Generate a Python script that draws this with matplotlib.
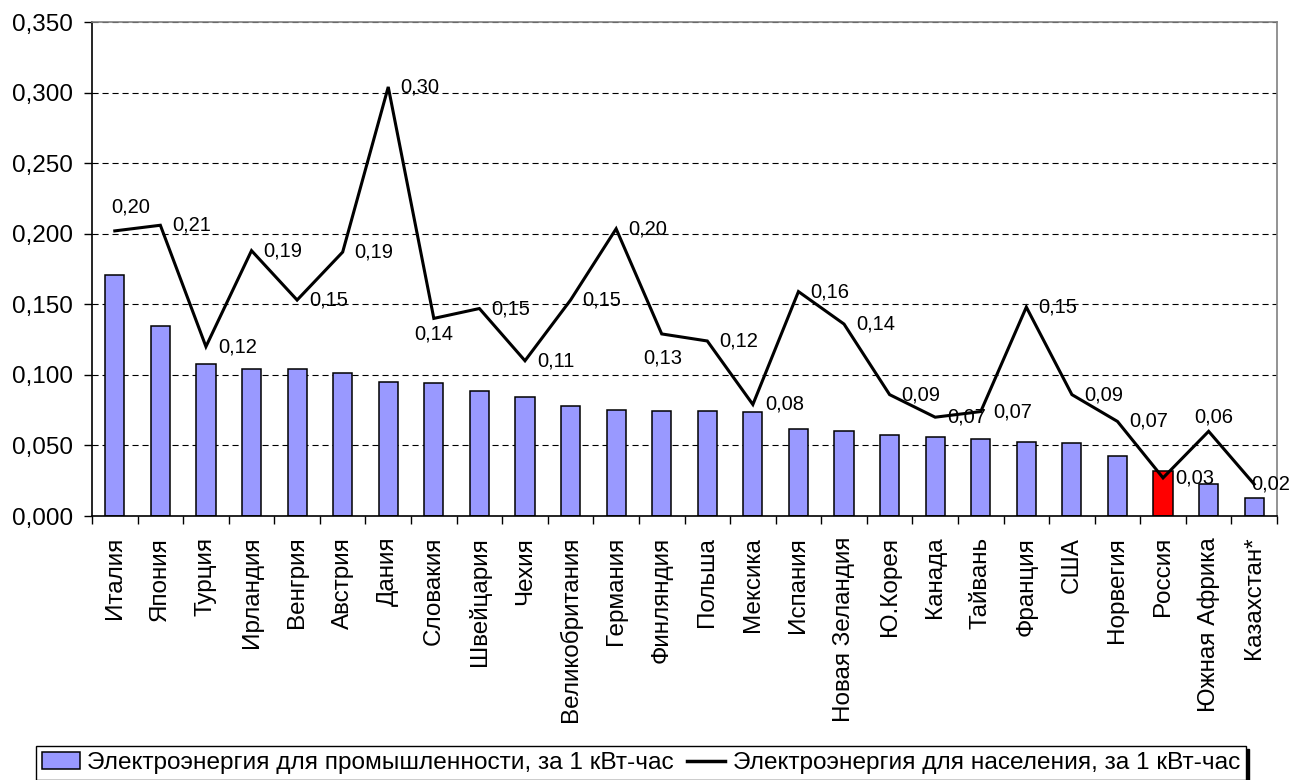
import numpy as np
import matplotlib
matplotlib.use("Agg")
import matplotlib.pyplot as plt
import matplotlib.ticker as mticker
from matplotlib.patches import Patch
from matplotlib.lines import Line2D

plt.rcParams["font.family"] = ["Liberation Sans", "DejaVu Sans"]

# Данные
countries = ["Италия", "Япония", "Турция", "Ирландия", "Венгрия", "Австрия", "Дания",
             "Словакия", "Швейцария", "Чехия", "Великобритания", "Германия", "Финляндия",
             "Польша", "Мексика", "Испания", "Новая Зеландия", "Ю.Корея", "Канада",
             "Тайвань", "Франция", "США", "Норвегия", "Россия", "Южная Африка", "Казахстан*"]

industry = [0.1705, 0.1348, 0.1079, 0.1042, 0.1040, 0.1010, 0.0947, 0.0942, 0.0883,
            0.0844, 0.0778, 0.0753, 0.0743, 0.0743, 0.0736, 0.0619, 0.0599, 0.0577,
            0.0558, 0.0545, 0.0523, 0.0519, 0.0423, 0.0320, 0.0230, 0.0130]

household = [0.202, 0.206, 0.120, 0.188, 0.153, 0.187, 0.304, 0.140, 0.147, 0.110,
             0.153, 0.2035, 0.129, 0.124, 0.079, 0.159, 0.136, 0.086, 0.070, 0.074,
             0.148, 0.086, 0.067, 0.027, 0.060, 0.0225]

label_industry = "Электроэнергия для промышленности, за 1 кВт-час"
label_household = "Электроэнергия для населения, за 1 кВт-час"

BLUE = "#9999FF"
RED = "#FF0000"

fig = plt.figure(figsize=(12.91, 7.80), dpi=100)
W, H = 1291, 780
ax = fig.add_axes([92 / W, 1 - 516 / H, (1277 - 92) / W, (516 - 22) / H])

x = np.arange(len(countries))
colors = [RED if c == "Россия" else BLUE for c in countries]
ax.bar(x, industry, width=0.42, color=colors, edgecolor="black", linewidth=1.1, zorder=2)
ax.plot(x, household, color="black", linewidth=2.2, zorder=3, solid_joinstyle="miter")

ax.set_xlim(-0.5, len(countries) - 0.5)
ax.set_ylim(0, 0.35)
ax.set_yticks(np.arange(0, 0.351, 0.05))
ax.yaxis.set_major_formatter(mticker.FuncFormatter(lambda v, _: f"{v:.3f}".replace(".", ",")))
ax.tick_params(axis="y", labelsize=17.5, length=5.5, width=1, pad=8, direction="out")

ax.grid(axis="y", color="black", linewidth=0.8, linestyle=(0, (5.5, 3.5)))
ax.set_axisbelow(True)

ax.set_xticks(x)
ax.set_xticklabels(countries, rotation=90, fontsize=17.5, va="top", ha="center")
ax.tick_params(axis="x", which="major", length=0, pad=15)
ax.set_xticks(np.arange(-0.5, len(countries), 1), minor=True)
ax.tick_params(axis="x", which="minor", length=5.5, width=1, direction="out")

ax.spines["left"].set_color("black")
ax.spines["bottom"].set_color("black")
ax.spines["top"].set_color("#808080")
ax.spines["right"].set_color("#808080")
for s in ax.spines.values():
    s.set_linewidth(1.2)

# подписи значений (сдвиги в пикселях)
px = 72 / 100
special = {
    "Италия": (16, 24, "center"),
    "Словакия": (0, -16, "center"),
    "Финляндия": (1, -24, "center"),
    "Южная Африка": (5, 14, "center"),
    "Казахстан*": (-3, 0, "left"),
}
for i, (c, v) in enumerate(zip(countries, household)):
    dx, dy, ha = special.get(c, (12, 0, "left"))
    ax.annotate(f"{v:.2f}".replace(".", ","), (i, v), xytext=(dx * px, dy * px),
                textcoords="offset points", ha=ha, va="center", fontsize=14.5,
                zorder=4, annotation_clip=False)

handles = [Patch(facecolor=BLUE, edgecolor="black", linewidth=1.1),
           Line2D([0], [0], color="black", linewidth=2.5)]
leg = fig.legend(handles, [label_industry, label_household], loc="upper left",
                 bbox_to_anchor=(36 / W, 1 - 746 / H), ncol=2, fontsize=17.6,
                 handlelength=1.55, handleheight=0.7, handletextpad=0.3,
                 columnspacing=0.55, borderpad=0.25, borderaxespad=0,
                 fancybox=False, edgecolor="black", framealpha=1,
                 shadow={"color": "black", "alpha": 1})
leg.get_frame().set_linewidth(1)

plt.savefig("out.png", dpi=100)
